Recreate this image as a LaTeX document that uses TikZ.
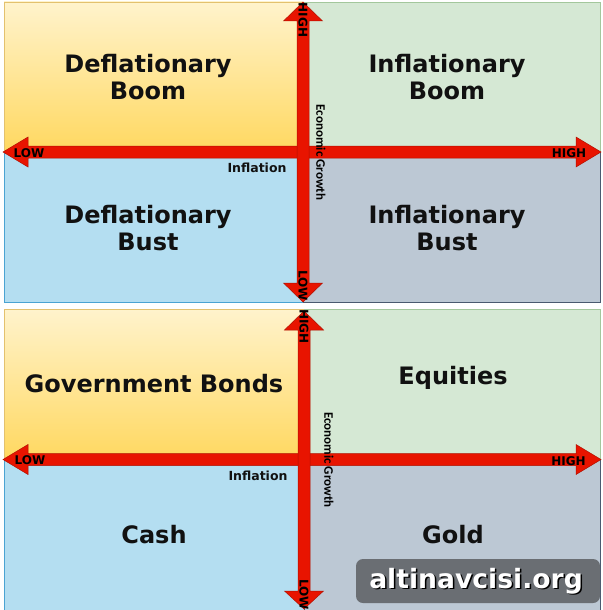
\documentclass[tikz,border=0pt]{standalone}
\usepackage{fontspec}
\setmainfont{DejaVu Sans}
\newfontfamily\carl{Carlito}
\definecolor{ylt}{HTML}{FFF3CC}
\definecolor{ydk}{HTML}{FFD860}
\definecolor{grn}{HTML}{D5E8D4}
\definecolor{blu}{HTML}{B4DEF1}
\definecolor{gry}{HTML}{BCC8D4}
\definecolor{axred}{HTML}{E81400}
\definecolor{axedge}{HTML}{B01000}
\definecolor{ybord}{HTML}{E3C16E}
\definecolor{gbord}{HTML}{A3C79C}
\definecolor{bbord}{HTML}{4AA3D2}
\definecolor{sbord}{HTML}{4A5A70}
\definecolor{wmark}{HTML}{6A6E73}
\definecolor{txt}{HTML}{111111}
\tikzset{
  quadY/.style={draw=ybord, line width=0.8pt, top color=ylt, bottom color=ydk},
  quadG/.style={draw=gbord, line width=0.8pt, fill=grn},
  quadB/.style={draw=bbord, line width=0.8pt, fill=blu},
  quadS/.style={draw=sbord, line width=0.8pt, fill=gry},
  axisarrow/.style={fill=axred, draw=axedge, line width=0.5pt, line join=miter},
  biglabel/.style={text=txt, font=\bfseries\fontsize{24}{27}\selectfont, align=center, inner sep=0pt},
  smalllabel/.style={text=txt, font=\bfseries\fontsize{12.5}{14}\selectfont, inner sep=0pt},
  endlabel/.style={text=black, font=\bfseries\fontsize{12}{14}\selectfont, inner sep=0pt},
  growthlabel/.style={text=black, font=\carl\bfseries\fontsize{13}{15}\selectfont, inner sep=0pt, rotate=-90},
}
\begin{document}
\begin{tikzpicture}[x=1pt, y=-1pt]
\useasboundingbox (0,0) rectangle (602,610);
\fill[white] (0,0) rectangle (602,610);

% ---------- top panel ----------
\path[quadY] (4,2) rectangle (303,152);
\path[quadG] (303,2) rectangle (600,152);
\path[quadB] (4,152) rectangle (303,302);
\path[quadS] (303,152) rectangle (600,302);

\path[axisarrow] (3,152) -- (28,137) -- (28,146) -- (576,146) -- (576,137) -- (601,152)
  -- (576,167) -- (576,158) -- (28,158) -- (28,167) -- cycle;
\path[axisarrow] (303,2) -- (322.5,21) -- (309,21) -- (309,283) -- (322.5,283) -- (303,302)
  -- (283.5,283) -- (297,283) -- (297,21) -- (283.5,21) -- cycle;

\node[biglabel] (dboom) at (148,77) {Deflationary\\Boom};
\node[biglabel] (iboom) at (447,77) {Inflationary\\Boom};
\node[biglabel] (dbust) at (148,228) {Deflationary\\Bust};
\node[biglabel] (ibust) at (447,228) {Inflationary\\Bust};
\node[smalllabel] (infl1) at (257,168) {Inflation};
\node[growthlabel] (grow1) at (321,152.5) {Economic Growth};
\node[endlabel] (low1h) at (29,153) {LOW};
\node[endlabel] (high1h) at (569,153.5) {HIGH};
\node[endlabel, rotate=-90] (high1v) at (303,20) {HIGH};
\node[endlabel, rotate=-90] (low1v) at (303,285.5) {LOW};

% ---------- bottom panel ----------
\path[quadY] (4,309) rectangle (304,459.5);
\path[quadG] (304,309) rectangle (600,459.5);
\path[quadB] (4,459.5) rectangle (304,612);
\path[quadS] (304,459.5) rectangle (600,612);

\path[axisarrow] (3,459.5) -- (28,444.5) -- (28,453.5) -- (576,453.5) -- (576,444.5) -- (601,459.5)
  -- (576,474.5) -- (576,465.5) -- (28,465.5) -- (28,474.5) -- cycle;
\path[axisarrow] (304,311) -- (323.5,330) -- (310,330) -- (310,591) -- (323.5,591) -- (304,609)
  -- (284.5,591) -- (298,591) -- (298,330) -- (284.5,330) -- cycle;

\node[biglabel] (bonds) at (154,384) {Government Bonds};
\node[biglabel] (equit) at (453,378) {Equities};
\node[biglabel] (cash) at (154,535) {Cash};
\node[biglabel] (gold) at (453,535) {Gold};
\node[smalllabel] (infl2) at (258,475.5) {Inflation};
\node[growthlabel] (grow2) at (329,460) {Economic Growth};
\node[endlabel] (low2h) at (30,460.5) {LOW};
\node[endlabel] (high2h) at (568.5,461) {HIGH};
\node[endlabel, rotate=-90] (high2v) at (304,326.5) {HIGH};
\node[endlabel, rotate=-90] (low2v) at (304,594.5) {LOW};

% ---------- watermark ----------
\path[fill=wmark, rounded corners=7pt] (356,559) rectangle (600,603);
\node[text=black, font=\bfseries\fontsize{26.6}{30}\selectfont, inner sep=0pt] (wmshadow) at (477.5,582.5) {altinavcisi.org};
\node[text=white, font=\bfseries\fontsize{26.6}{30}\selectfont, inner sep=0pt] (wm) at (476,581) {altinavcisi.org};
\end{tikzpicture}
\end{document}
